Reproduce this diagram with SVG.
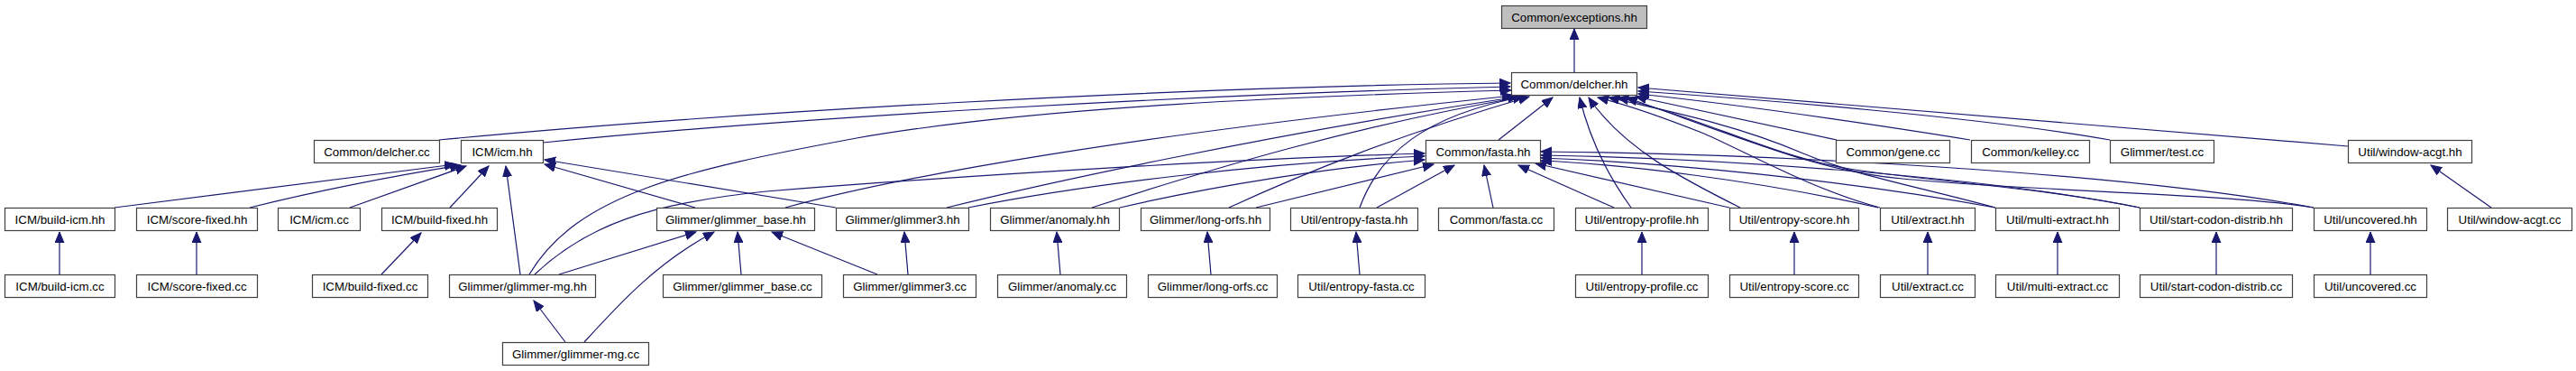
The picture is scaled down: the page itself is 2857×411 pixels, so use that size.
<svg xmlns="http://www.w3.org/2000/svg" width="2857" height="411" viewBox="0 0 2857 411">
<style>
.n rect{fill:#ffffff;stroke:#404040;stroke-width:1.2}
.n.root rect{fill:#bfbfbf}
.n text{font-family:"Liberation Sans",Arial,Helvetica,sans-serif;font-size:13.3px;fill:#000;text-anchor:middle}
.e path{fill:none;stroke:#191970;stroke-width:1.2;marker-end:url(#ah)}
</style>
<defs>
<marker id="ah" markerUnits="userSpaceOnUse" markerWidth="13" markerHeight="11" refX="12" refY="5" orient="auto">
<path d="M0,0 L12,5 L0,10 z" fill="#191970" stroke="#191970" stroke-width="1"/>
</marker>
</defs>
<rect width="2857" height="411" fill="#ffffff"/>
<g id="connectors" class="e">
<path d="M1746,80 L1746,32"/>
<path d="M487,155 C800,125 1300,96 1675,92"/>
<path d="M602,158 C900,128 1350,104 1675,96"/>
<path d="M587,304 C640,215 760,188 950,153 C1150,118 1450,106 1676,100"/>
<path d="M871,230 C1000,195 1250,150 1678,106"/>
<path d="M1050,230 C1150,205 1400,150 1684,107"/>
<path d="M1211,230 C1350,185 1500,140 1690,107"/>
<path d="M1363,230 C1450,190 1550,150 1696,107"/>
<path d="M1508,230 C1530,170 1580,128 1690,107"/>
<path d="M1662,155 L1722,108"/>
<path d="M1809,230 C1780,190 1762,150 1752,108"/>
<path d="M1930,230 C1870,200 1800,165 1762,108"/>
<path d="M2085,230 C2010,210 1940,170 1890,148 C1840,128 1800,115 1772,108"/>
<path d="M2213,230 C2120,205 2060,195 2000,170 C1930,140 1860,125 1784,108"/>
<path d="M2373,230 C2250,205 2120,200 2040,185 C1960,170 1880,128 1794,108"/>
<path d="M2566,230 C2470,214 2250,212 2110,198 C2020,190 1950,160 1804,108"/>
<path d="M2037,155 L1814,107"/>
<path d="M2185,155 C2130,146 1950,118 1817,104"/>
<path d="M2340,155 C2200,130 1950,110 1817,101"/>
<path d="M2604,162 L1817,97"/>
<path d="M593,304 C650,250 720,225 850,212 C1100,192 1400,175 1580,170"/>
<path d="M1074,230 C1200,205 1400,180 1580,173"/>
<path d="M1242,230 C1350,205 1480,185 1580,177"/>
<path d="M1393,230 L1590,182"/>
<path d="M1527,230 L1613,183"/>
<path d="M1656,230 L1646,183"/>
<path d="M1790,230 L1684,183"/>
<path d="M1918,230 L1703,181"/>
<path d="M2083,230 C1950,200 1800,182 1709,178"/>
<path d="M2213,230 C2050,200 1850,180 1709,175"/>
<path d="M2373,230 C2200,195 1900,175 1709,172"/>
<path d="M2566,230 C2350,190 1950,170 1709,168"/>
<path d="M127,230 C300,207 420,193 505,182"/>
<path d="M277,230 C350,212 430,196 511,183"/>
<path d="M388,230 L517,184"/>
<path d="M499,230 L542,184"/>
<path d="M577,304 L561,184"/>
<path d="M771,230 L604,182"/>
<path d="M927,230 L604,177"/>
<path d="M620,304 L772,257"/>
<path d="M648,379 C690,333 730,290 792,257"/>
<path d="M822,304 L818,257"/>
<path d="M973,304 L856,257"/>
<path d="M627,379 L592,333"/>
<path d="M1007,304 L1003,257"/>
<path d="M1176,304 L1172,257"/>
<path d="M1343,304 L1339,257"/>
<path d="M1508,304 L1504,257"/>
<path d="M1821,304 L1821,257"/>
<path d="M1990,304 L1990,257"/>
<path d="M2138,304 L2138,257"/>
<path d="M2282,304 L2282,257"/>
<path d="M2458,304 L2458,257"/>
<path d="M2629,304 L2629,257"/>
<path d="M2763,230 L2696,183"/>
<path d="M66,304 L66,257"/>
<path d="M218,304 L218,257"/>
<path d="M423,304 L467,258"/>
</g>
<g id="exceptions_hh" class="n root"><rect x="1665.5" y="6.5" width="161" height="25"/><text x="1746" y="23.5">Common/exceptions.hh</text></g>
<g id="delcher_hh" class="n"><rect x="1676.5" y="80.5" width="139" height="25"/><text x="1746" y="97.5">Common/delcher.hh</text></g>
<g id="delcher_cc" class="n"><rect x="348.5" y="155.5" width="139" height="25"/><text x="418" y="172.5">Common/delcher.cc</text></g>
<g id="icm_hh" class="n"><rect x="511.5" y="155.5" width="91" height="25"/><text x="557" y="172.5">ICM/icm.hh</text></g>
<g id="fasta_hh" class="n"><rect x="1581.5" y="155.5" width="127" height="25"/><text x="1645" y="172.5">Common/fasta.hh</text></g>
<g id="gene_cc" class="n"><rect x="2036.5" y="155.5" width="126" height="25"/><text x="2099.5" y="172.5">Common/gene.cc</text></g>
<g id="kelley_cc" class="n"><rect x="2186.5" y="155.5" width="131" height="25"/><text x="2252" y="172.5">Common/kelley.cc</text></g>
<g id="test_cc" class="n"><rect x="2340.5" y="155.5" width="115" height="25"/><text x="2398" y="172.5">Glimmer/test.cc</text></g>
<g id="window_acgt_hh" class="n"><rect x="2604.5" y="155.5" width="137" height="25"/><text x="2673" y="172.5">Util/window-acgt.hh</text></g>
<g id="build_icm_hh" class="n"><rect x="5.5" y="230.5" width="122" height="25"/><text x="66.5" y="247.5">ICM/build-icm.hh</text></g>
<g id="score_fixed_hh" class="n"><rect x="151.5" y="230.5" width="134" height="25"/><text x="218.5" y="247.5">ICM/score-fixed.hh</text></g>
<g id="icm_cc" class="n"><rect x="308.5" y="230.5" width="91" height="25"/><text x="354" y="247.5">ICM/icm.cc</text></g>
<g id="build_fixed_hh" class="n"><rect x="423.5" y="230.5" width="128" height="25"/><text x="487.5" y="247.5">ICM/build-fixed.hh</text></g>
<g id="glimmer_base_hh" class="n"><rect x="728.5" y="230.5" width="175" height="25"/><text x="816" y="247.5">Glimmer/glimmer_base.hh</text></g>
<g id="glimmer3_hh" class="n"><rect x="927.5" y="230.5" width="147" height="25"/><text x="1001" y="247.5">Glimmer/glimmer3.hh</text></g>
<g id="anomaly_hh" class="n"><rect x="1098.5" y="230.5" width="143" height="25"/><text x="1170" y="247.5">Glimmer/anomaly.hh</text></g>
<g id="long_orfs_hh" class="n"><rect x="1265.5" y="230.5" width="143" height="25"/><text x="1337" y="247.5">Glimmer/long-orfs.hh</text></g>
<g id="entropy_fasta_hh" class="n"><rect x="1431.5" y="230.5" width="141" height="25"/><text x="1502" y="247.5">Util/entropy-fasta.hh</text></g>
<g id="fasta_cc" class="n"><rect x="1595.5" y="230.5" width="128" height="25"/><text x="1659.5" y="247.5">Common/fasta.cc</text></g>
<g id="entropy_profile_hh" class="n"><rect x="1747.5" y="230.5" width="147" height="25"/><text x="1821" y="247.5">Util/entropy-profile.hh</text></g>
<g id="entropy_score_hh" class="n"><rect x="1918.5" y="230.5" width="143" height="25"/><text x="1990" y="247.5">Util/entropy-score.hh</text></g>
<g id="extract_hh" class="n"><rect x="2085.5" y="230.5" width="105" height="25"/><text x="2138" y="247.5">Util/extract.hh</text></g>
<g id="multi_extract_hh" class="n"><rect x="2213.5" y="230.5" width="137" height="25"/><text x="2282" y="247.5">Util/multi-extract.hh</text></g>
<g id="start_codon_distrib_hh" class="n"><rect x="2373.5" y="230.5" width="169" height="25"/><text x="2458" y="247.5">Util/start-codon-distrib.hh</text></g>
<g id="uncovered_hh" class="n"><rect x="2566.5" y="230.5" width="125" height="25"/><text x="2629" y="247.5">Util/uncovered.hh</text></g>
<g id="window_acgt_cc" class="n"><rect x="2714.5" y="230.5" width="138" height="25"/><text x="2783.5" y="247.5">Util/window-acgt.cc</text></g>
<g id="build_icm_cc" class="n"><rect x="5.5" y="304.5" width="122" height="25"/><text x="66.5" y="321.5">ICM/build-icm.cc</text></g>
<g id="score_fixed_cc" class="n"><rect x="151.5" y="304.5" width="134" height="25"/><text x="218.5" y="321.5">ICM/score-fixed.cc</text></g>
<g id="build_fixed_cc" class="n"><rect x="346.5" y="304.5" width="128" height="25"/><text x="410.5" y="321.5">ICM/build-fixed.cc</text></g>
<g id="glimmer_mg_hh" class="n"><rect x="498.5" y="304.5" width="162" height="25"/><text x="579.5" y="321.5">Glimmer/glimmer-mg.hh</text></g>
<g id="glimmer_base_cc" class="n"><rect x="735.5" y="304.5" width="176" height="25"/><text x="823.5" y="321.5">Glimmer/glimmer_base.cc</text></g>
<g id="glimmer3_cc" class="n"><rect x="935.5" y="304.5" width="147" height="25"/><text x="1009" y="321.5">Glimmer/glimmer3.cc</text></g>
<g id="anomaly_cc" class="n"><rect x="1106.5" y="304.5" width="143" height="25"/><text x="1178" y="321.5">Glimmer/anomaly.cc</text></g>
<g id="long_orfs_cc" class="n"><rect x="1273.5" y="304.5" width="143" height="25"/><text x="1345" y="321.5">Glimmer/long-orfs.cc</text></g>
<g id="entropy_fasta_cc" class="n"><rect x="1439.5" y="304.5" width="141" height="25"/><text x="1510" y="321.5">Util/entropy-fasta.cc</text></g>
<g id="entropy_profile_cc" class="n"><rect x="1747.5" y="304.5" width="147" height="25"/><text x="1821" y="321.5">Util/entropy-profile.cc</text></g>
<g id="entropy_score_cc" class="n"><rect x="1918.5" y="304.5" width="143" height="25"/><text x="1990" y="321.5">Util/entropy-score.cc</text></g>
<g id="extract_cc" class="n"><rect x="2085.5" y="304.5" width="105" height="25"/><text x="2138" y="321.5">Util/extract.cc</text></g>
<g id="multi_extract_cc" class="n"><rect x="2213.5" y="304.5" width="137" height="25"/><text x="2282" y="321.5">Util/multi-extract.cc</text></g>
<g id="start_codon_distrib_cc" class="n"><rect x="2373.5" y="304.5" width="169" height="25"/><text x="2458" y="321.5">Util/start-codon-distrib.cc</text></g>
<g id="uncovered_cc" class="n"><rect x="2566.5" y="304.5" width="125" height="25"/><text x="2629" y="321.5">Util/uncovered.cc</text></g>
<g id="glimmer_mg_cc" class="n"><rect x="557.5" y="379.5" width="162" height="25"/><text x="638.5" y="396.5">Glimmer/glimmer-mg.cc</text></g>
</svg>
